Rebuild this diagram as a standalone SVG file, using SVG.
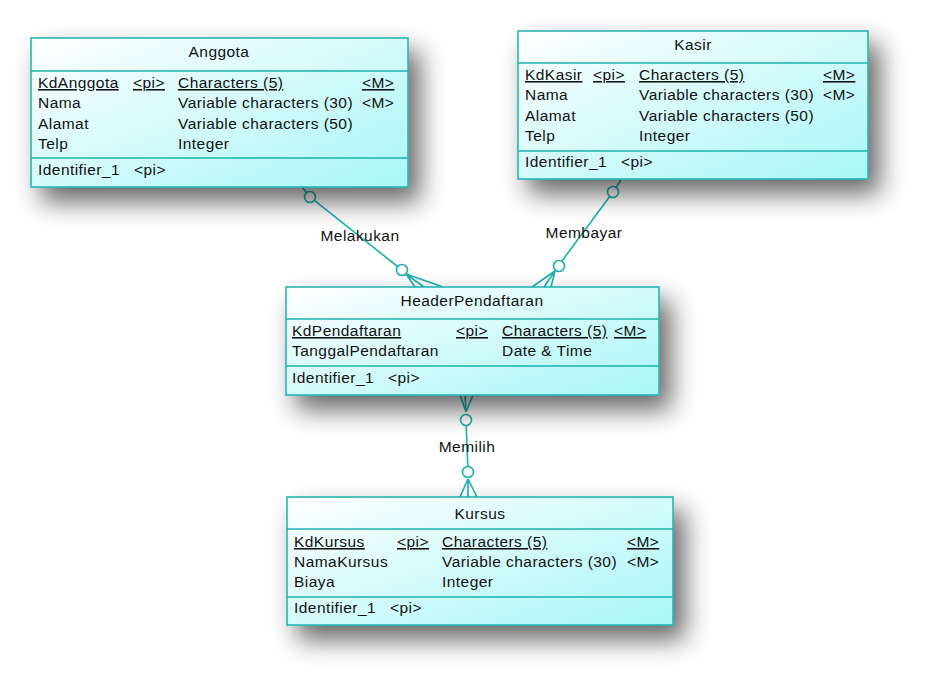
<svg xmlns="http://www.w3.org/2000/svg" width="933" height="691" viewBox="0 0 933 691">
<defs>
<linearGradient id="fill" x1="0" y1="0" x2="1" y2="1">
<stop offset="0" stop-color="#ffffff"/>
<stop offset="1" stop-color="#a9f6f6"/>
</linearGradient>
<filter id="sh" x="-25%" y="-40%" width="160%" height="200%">
<feDropShadow dx="11" dy="14" stdDeviation="13" flood-color="#000" flood-opacity="0.6"/>
</filter>
<style>
.box{fill:url(#fill);stroke:#1cb0b0;stroke-width:1.5}
.sep{stroke:#1cb0b0;stroke-width:1.5}
text{font-family:"Liberation Sans",Arial,sans-serif;font-size:15.5px;fill:#111;letter-spacing:0.45px}
.t{text-anchor:middle}
.u{text-decoration:underline}
.ln{stroke:#1cb0b0;stroke-width:1.6;fill:none}
.c{fill:#fff;stroke:#1cb0b0;stroke-width:1.6}
</style>
</defs>
<rect width="933" height="691" fill="#fff"/>

<g id="connectors">
<path class="ln" d="M302,187 L310,197 L402,270"/>
<path class="ln" d="M406,274 L415,287 M406,274 L424,287 M406,274 L443,287"/>
<circle class="c" cx="310" cy="197" r="5.5"/>
<circle class="c" cx="402" cy="270" r="5.5"/>
<text x="360" y="241" text-anchor="middle">Melakukan</text>
<path class="ln" d="M621,180 L613,192 L559,265"/>
<path class="ln" d="M555,271 L532,287 M555,271 L544,287 M555,271 L551,287"/>
<circle class="c" cx="613" cy="192" r="5.5"/>
<circle class="c" cx="559" cy="266" r="5.5"/>
<text x="584" y="238" text-anchor="middle">Membayar</text>
<path class="ln" d="M466,412 L460,395 M466,412 L465,395 M466,412 L473,395"/>
<path class="ln" d="M466,420 L468,472"/>
<path class="ln" d="M468,479 L460,497 M468,479 L468,497 M468,479 L477,497"/>
<circle class="c" cx="466" cy="420" r="5.5"/>
<circle class="c" cx="468" cy="472" r="5.5"/>
<text x="467" y="452" text-anchor="middle">Memilih</text>
</g>

<g id="anggota">
<rect class="box" x="31" y="38" width="377" height="149" filter="url(#sh)"/>
<line class="sep" x1="31" y1="71" x2="408" y2="71"/>
<line class="sep" x1="31" y1="158" x2="408" y2="158"/>
<text class="t" x="219" y="57">Anggota</text>
<text class="u" x="38" y="88">KdAnggota</text>
<text class="u" x="133" y="88">&lt;pi&gt;</text>
<text class="u" x="178" y="88">Characters (5)</text>
<text class="u" x="362" y="88">&lt;M&gt;</text>
<text x="38" y="108">Nama</text>
<text x="178" y="108">Variable characters (30)</text>
<text x="362" y="108">&lt;M&gt;</text>
<text x="38" y="129">Alamat</text>
<text x="178" y="129">Variable characters (50)</text>
<text x="38" y="149">Telp</text>
<text x="178" y="149">Integer</text>
<text x="38" y="175">Identifier_1</text>
<text x="134" y="175">&lt;pi&gt;</text>
</g>

<g id="kasir">
<rect class="box" x="518" y="31" width="350" height="148" filter="url(#sh)"/>
<line class="sep" x1="518" y1="63" x2="868" y2="63"/>
<line class="sep" x1="518" y1="151" x2="868" y2="151"/>
<text class="t" x="693" y="50">Kasir</text>
<text class="u" x="525" y="80">KdKasir</text>
<text class="u" x="593" y="80">&lt;pi&gt;</text>
<text class="u" x="639" y="80">Characters (5)</text>
<text class="u" x="823" y="80">&lt;M&gt;</text>
<text x="525" y="100">Nama</text>
<text x="639" y="100">Variable characters (30)</text>
<text x="823" y="100">&lt;M&gt;</text>
<text x="525" y="121">Alamat</text>
<text x="639" y="121">Variable characters (50)</text>
<text x="525" y="141">Telp</text>
<text x="639" y="141">Integer</text>
<text x="525" y="167">Identifier_1</text>
<text x="621" y="167">&lt;pi&gt;</text>
</g>

<g id="headerpendaftaran">
<rect class="box" x="286" y="287" width="373" height="108" filter="url(#sh)"/>
<line class="sep" x1="286" y1="319" x2="659" y2="319"/>
<line class="sep" x1="286" y1="366" x2="659" y2="366"/>
<text class="t" x="472" y="306">HeaderPendaftaran</text>
<text class="u" x="292" y="336">KdPendaftaran</text>
<text class="u" x="456" y="336">&lt;pi&gt;</text>
<text class="u" x="502" y="336">Characters (5)</text>
<text class="u" x="614" y="336">&lt;M&gt;</text>
<text x="292" y="356">TanggalPendaftaran</text>
<text x="502" y="356">Date &amp; Time</text>
<text x="292" y="383">Identifier_1</text>
<text x="388" y="383">&lt;pi&gt;</text>
</g>

<g id="kursus">
<rect class="box" x="287" y="497" width="386" height="128" filter="url(#sh)"/>
<line class="sep" x1="287" y1="529" x2="673" y2="529"/>
<line class="sep" x1="287" y1="597" x2="673" y2="597"/>
<text class="t" x="480" y="519">Kursus</text>
<text class="u" x="294" y="547">KdKursus</text>
<text class="u" x="397" y="547">&lt;pi&gt;</text>
<text class="u" x="442" y="547">Characters (5)</text>
<text class="u" x="627" y="547">&lt;M&gt;</text>
<text x="294" y="567">NamaKursus</text>
<text x="442" y="567">Variable characters (30)</text>
<text x="627" y="567">&lt;M&gt;</text>
<text x="294" y="587">Biaya</text>
<text x="442" y="587">Integer</text>
<text x="294" y="613">Identifier_1</text>
<text x="390" y="613">&lt;pi&gt;</text>
</g>
</svg>
